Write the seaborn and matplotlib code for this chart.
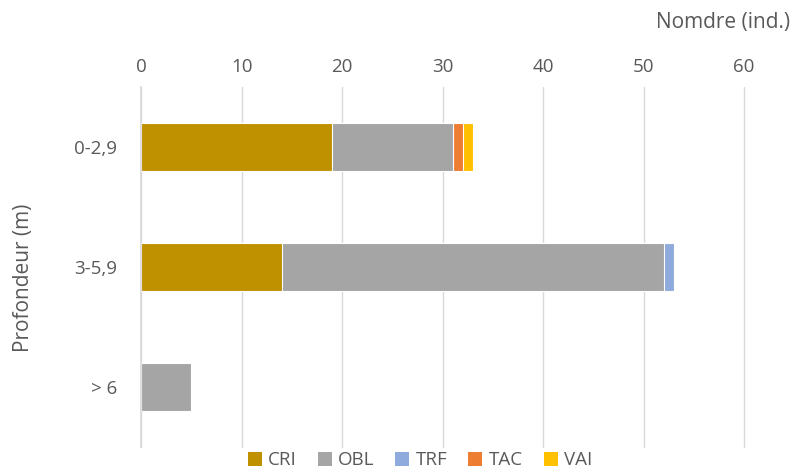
import matplotlib
matplotlib.use("Agg")
import matplotlib.pyplot as plt
import seaborn as sns
import pandas as pd
import numpy as np
from matplotlib.patches import Patch

categories = ["0-2,9", "3-5,9", "> 6"]
series = ["CRI", "OBL", "TRF", "TAC", "VAI"]
CRI = [19, 14, 0]
OBL = [12, 38, 5]
TRF = [0, 1, 0]
TAC = [1, 0, 0]
VAI = [1, 0, 0]
colors = ["#BF9000", "#A5A5A5", "#8FAADC", "#ED7D31", "#FFC000"]
xticks = [0, 10, 20, 30, 40, 50, 60]

sns.set_theme(style="white")
plt.rcParams["font.family"] = ["Open Sans", "DejaVu Sans"]
text_color = "#595959"

values = np.array([CRI, OBL, TRF, TAC, VAI], dtype=float)
cum = np.cumsum(values, axis=0)

fig = plt.figure(figsize=(7.97, 4.72), dpi=100)
ax = fig.add_axes([0.177, 0.053, 0.7565, 0.763])

for i in range(len(series) - 1, -1, -1):
    df = pd.DataFrame({"cat": categories, "val": cum[i]})
    sns.barplot(data=df, y="cat", x="val", orient="h", color=colors[i],
                width=0.4, ax=ax, edgecolor="white", linewidth=0.8, saturation=1)

ax.set_xlim(0, 60)
ax.set_ylim(2.5, -0.5)
ax.xaxis.tick_top()
ax.set_xticks(xticks)
ax.set_xticklabels([str(t) for t in xticks], color=text_color, fontsize=13.5)
ax.tick_params(axis="x", length=0, pad=8)
ax.tick_params(axis="y", length=0, pad=17, labelsize=13.5, labelcolor=text_color)
ax.grid(axis="x", color="#D9D9D9", linewidth=1)
for gl in ax.get_xgridlines():
    gl.set_clip_on(False)
ax.set_axisbelow(True)
for s in ["top", "right", "bottom"]:
    ax.spines[s].set_visible(False)
ax.spines["left"].set_color("#D9D9D9")
ax.spines["left"].set_linewidth(1.2)
ax.set_xlabel("")
ax.set_ylabel("Profondeur (m)", color=text_color, fontsize=15)
ax.yaxis.set_label_coords(-0.178, 0.47)

fig.text(0.992, 0.953, "Nomdre (ind.)", ha="right", va="center",
         color=text_color, fontsize=15)

handles = [Patch(facecolor=c, edgecolor="none") for c in colors]
fig.legend(handles, series, loc="lower center", bbox_to_anchor=(0.527, -0.03),
           ncol=5, frameon=False, fontsize=13.5, handlelength=0.75, handleheight=0.75,
           handletextpad=0.35, columnspacing=1.1, labelcolor=text_color)

fig.savefig("out.png", dpi=100)
